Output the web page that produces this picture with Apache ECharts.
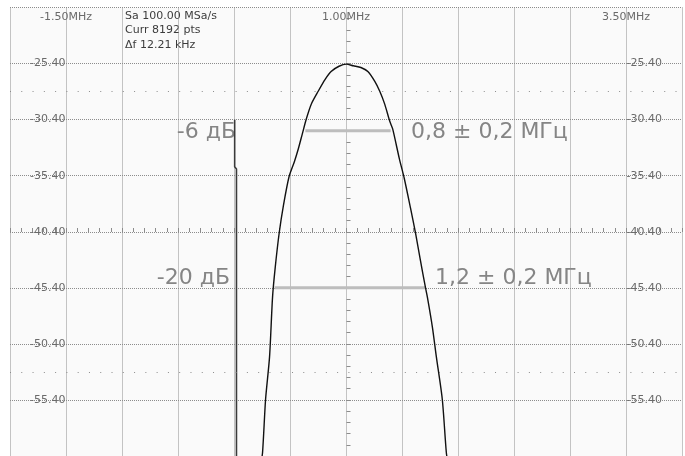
<!DOCTYPE html>
<html>
<head>
<meta charset="utf-8">
<script src="https://cdn.jsdelivr.net/npm/echarts@6/dist/echarts.min.js"></script>
<style>
html,body{margin:0;padding:0;background:#ffffff;}
#chart{width:685px;height:456px;}
</style>
</head>
<body>
<div id="chart"></div>
<script>
// ---- data ----
const curveFreqMHz = [0.2376,0.2553,0.2819,0.3174,0.3440,0.3679,0.4034,0.4415,0.4920,0.5390,0.5745,0.6100,0.6454,0.6897,0.7518,0.8138,0.8670,0.9375,1.0027,
                      1.0650,1.1330,1.1950,1.2571,1.3014,1.3457,1.3901,1.4167,1.4761,1.5204,1.5762,1.6206,1.6649,1.7092,1.7270,1.7713,1.8068,1.8599,1.8954,1.9130];
const curveLevelDb = [-61.3,-60.04,-55.36,-51.56,-46.25,-43.60,-40.51,-38.04,-35.47,-34.15,-33.00,-31.67,-30.35,-29.02,-27.87,-26.81,-26.11,-25.64,-25.45,
                      -25.60,-25.75,-26.11,-26.99,-27.87,-29.02,-30.53,-31.23,-33.88,-35.65,-38.30,-40.51,-42.98,-45.37,-46.25,-48.90,-51.56,-55.36,-60.04,-61.3];
const dcFreqMHz = [0.006, 0.006, 0.022, 0.022];
const dcLevelDb = [-30.4, -34.6, -34.8, -61.0];
const bw6FreqMHz = [0.637, 1.399];
const bw6LevelDb = [-31.4, -31.4];
const bw20FreqMHz = [0.362, 1.709];
const bw20LevelDb = [-45.4, -45.4];
const graticuleRowsDb = [-27.9, -52.9];
const xLabelValues = [-1.5, 1.0, 3.5];
const xLabelTexts = ['-1.50MHz', '1.00MHz', '3.50MHz'];
const yLabelValues = [-25.4, -30.4, -35.4, -40.4, -45.4, -50.4, -55.4];
const yLabelTexts = ['-25.40', '-30.40', '-35.40', '-40.40', '-45.40', '-50.40', '-55.40'];
const infoLines = ['Sa 100.00 MSa/s', 'Curr 8192 pts', '\u0394f 12.21 kHz'];
const annot6Left = '-6 дБ', annot6Right = '0,8 ± 0,2 МГц';
const annot20Left = '-20 дБ', annot20Right = '1,2 ± 0,2 МГц';

const zip = (a, b) => a.map((v, i) => [v, b[i]]);
const pick = (vals, texts, v) => { const i = vals.findIndex(u => Math.abs(u - v) < 1e-6); return i < 0 ? '' : texts[i]; };

const X_MIN = -2, X_MAX = 4, X_INT = 0.5;
const Y_MIN = -60.4, Y_MAX = -20.4, Y_INT = 5;
const GL = 10, GT = 7.5, GW = 677, GH = 452;
const gridLine = {show: true, lineStyle: {color: '#8c8c8c', type: [1, 1], width: 1}};
const font = 'DejaVu Sans';

const chart = echarts.init(document.getElementById('chart'), null, {renderer: 'canvas'});
chart.setOption({
  animation: false,
  backgroundColor: '#ffffff',
  grid: {left: GL, top: GT, width: GW, height: GH, show: true, backgroundColor: '#fafafa', borderWidth: 0},
  xAxis: [
    {type: 'value', position: 'top', min: X_MIN, max: X_MAX, interval: X_INT,
     axisLine: {show: false}, axisTick: {show: false}, splitLine: gridLine,
     axisLabel: {inside: true, margin: 4, fontFamily: font, fontSize: 11, color: '#6a6a6a',
                 formatter: v => pick(xLabelValues, xLabelTexts, v)}},
    {type: 'value', position: 'bottom', offset: -228, min: X_MIN, max: X_MAX, interval: X_INT,
     axisLine: {show: false}, splitLine: {show: false}, axisLabel: {show: false},
     axisTick: {show: true, length: 4, lineStyle: {color: '#8c8c8c'}},
     minorTick: {show: true, splitNumber: 5, length: 4, lineStyle: {color: '#8c8c8c'}}}
  ],
  yAxis: [
    {type: 'value', position: 'left', offset: -56.4, min: Y_MIN, max: Y_MAX, interval: Y_INT,
     axisLine: {show: false}, axisTick: {show: false}, splitLine: gridLine,
     axisLabel: {margin: 1, fontFamily: font, fontSize: 11, color: '#6a6a6a',
                 formatter: v => pick(yLabelValues, yLabelTexts, v)}},
    {type: 'value', position: 'right', offset: -56.4, min: Y_MIN, max: Y_MAX, interval: Y_INT,
     axisLine: {show: false}, axisTick: {show: false}, splitLine: {show: false},
     axisLabel: {margin: 1, fontFamily: font, fontSize: 11, color: '#6a6a6a',
                 formatter: v => pick(yLabelValues, yLabelTexts, v)}},
    {type: 'value', position: 'left', offset: -340.5, min: Y_MIN, max: Y_MAX, interval: Y_INT,
     axisLine: {show: false}, splitLine: {show: false}, axisLabel: {show: false},
     axisTick: {show: true, length: 4, lineStyle: {color: '#8c8c8c'}},
     minorTick: {show: true, splitNumber: 5, length: 4, lineStyle: {color: '#8c8c8c'}}}
  ],
  series: [
    {type: 'line', name: 'bw6', data: zip(bw6FreqMHz, bw6LevelDb), symbol: 'none', silent: true,
     lineStyle: {color: '#bdbdbd', width: 3}, z: 3},
    {type: 'line', name: 'bw20', data: zip(bw20FreqMHz, bw20LevelDb), symbol: 'none', silent: true,
     lineStyle: {color: '#bdbdbd', width: 3}, z: 3},
    {type: 'line', name: 'dc', data: zip(dcFreqMHz, dcLevelDb), symbol: 'none', silent: true, clip: true,
     lineStyle: {color: '#3a3a3a', width: 1.6}, z: 4},
    {type: 'line', name: 'spectrum', data: zip(curveFreqMHz, curveLevelDb), symbol: 'none', silent: true, clip: true,
     smooth: 0.25, lineStyle: {color: '#111111', width: 1.4}, z: 5,
     markLine: {silent: true, symbol: 'none', label: {show: false},
       lineStyle: {color: '#8c8c8c', type: [1, 10.28], width: 1},
       data: graticuleRowsDb.map(v => ({yAxis: v}))}}
  ],
  graphic: [
    ...infoLines.map((t, i) => ({type: 'text', left: 125, top: 10.5 + i * 14.5,
      style: {text: t, font: '11px "DejaVu Sans"', fill: '#3c3c3c'}})),
    {type: 'text', x: 236, y: 132, style: {text: annot6Left, font: '22px "DejaVu Sans"', fill: '#858585', align: 'right', verticalAlign: 'middle'}},
    {type: 'text', x: 411, y: 132, style: {text: annot6Right, font: '22px "DejaVu Sans"', fill: '#858585', align: 'left', verticalAlign: 'middle'}},
    {type: 'text', x: 230, y: 278, style: {text: annot20Left, font: '22px "DejaVu Sans"', fill: '#858585', align: 'right', verticalAlign: 'middle'}},
    {type: 'text', x: 435, y: 278, style: {text: annot20Right, font: '22px "DejaVu Sans"', fill: '#858585', align: 'left', verticalAlign: 'middle'}}
  ]
});
</script>
</body>
</html>
